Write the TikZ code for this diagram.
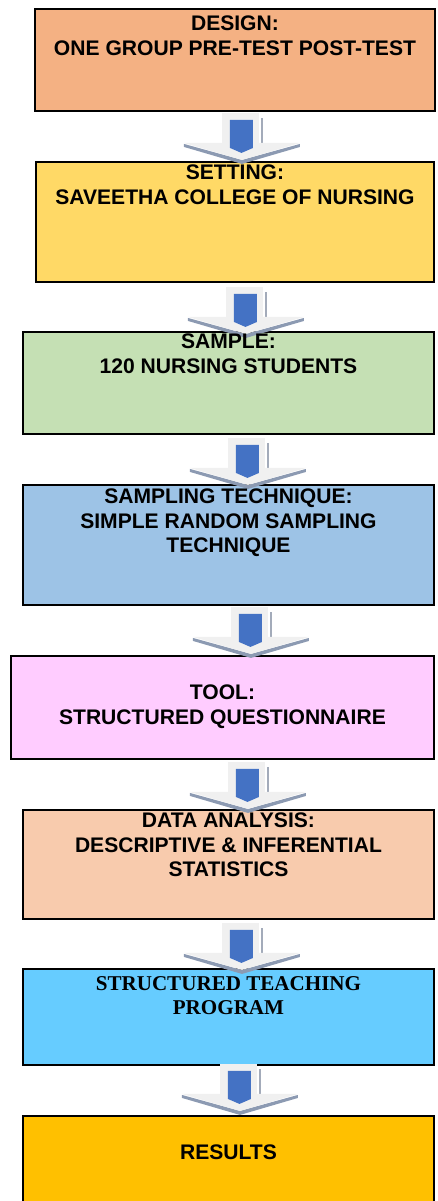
\documentclass[tikz,border=0pt]{standalone}
\usepackage{fontspec}
\setmainfont{Liberation Sans}
\newfontfamily\timesfont{Liberation Serif}
\usetikzlibrary{positioning}

\definecolor{designfill}{HTML}{F4B183}
\definecolor{settingfill}{HTML}{FFD966}
\definecolor{samplefill}{HTML}{C5E0B4}
\definecolor{techniquefill}{HTML}{9DC3E6}
\definecolor{toolfill}{HTML}{FFCCFF}
\definecolor{analysisfill}{HTML}{F8CBAD}
\definecolor{teachingfill}{HTML}{66CCFF}
\definecolor{resultsfill}{HTML}{FFC000}
\definecolor{shaftgray}{HTML}{F0F0F0}
\definecolor{edgegray}{HTML}{A3ABBA}
\definecolor{headshadow}{HTML}{8C9AB2}
\definecolor{arrowblue}{HTML}{4472C4}

\tikzset{
	stage/.style={draw=black, line width=1.1pt, inner sep=0pt, anchor=north west},
	stagetext/.style={anchor=north, align=center, inner sep=0pt, font=\bfseries\fontsize{12}{14.2}\selectfont},
	blockarrow/.pic={
		% shaft and its shaded edge
		\fill[shaftgray] (-19,0) rectangle (18,34);
		\fill[edgegray] (20,5) rectangle (22,30);
		% head with its shadow
		\fill[headshadow] (-57,31) -- (1,47) -- (59,31) -- (59,34) -- (1,51) -- (-57,34) -- cycle;
		\fill[shaftgray] (-57,30) -- (59,30) -- (1,47) -- cycle;
		% front face
		\fill[arrowblue] (-11,7) -- (12,7) -- (12,35) -- (0.5,40) -- (-11,35) -- cycle;
	}
}

\begin{document}
\begin{tikzpicture}[x=0.02cm, y=-0.02cm]
	\def\px{0.02cm} % One pixel of the reference
	
	\clip (0,0) rectangle (438,1201);
	
	% Draw the boxes
	\foreach \name/\xa/\ya/\xb/\yb/\col in {design/34/8/434/110/designfill,
		setting/35/161/433/281/settingfill, sample/22/331/433/433/samplefill,
		technique/22/484/433/604/techniquefill, tool/10/655/433/758/toolfill,
		analysis/22/809/433/918/analysisfill, teaching/22/968/433/1064/teachingfill,
		results/22/1115/433/1212/resultsfill} {
		\node[stage, fill=\col, minimum width={(\xb-\xa)*\px}, minimum height={(\yb-\ya)*\px}] (\name) at (\xa,\ya) {};
	}
	
	% Place the arrows between consecutive boxes
	\foreach \stagename/\dx/\dy in {design/6/1, setting/10/4, sample/18.5/3, technique/21.5/1,
		tool/24.5/2, analysis/12.5/3, teaching/10.5/-2} {
		\pic at ([xshift=\dx*\px, yshift=-\dy*\px]\stagename.south) {blockarrow};
	}
	
	% Texts of the boxes
	\node[stagetext, below=0.14cm of design.north] (designtext) {DESIGN:\\ONE GROUP PRE-TEST POST-TEST};
	\node[stagetext, below=0.06cm of setting.north] (settingtext) {SETTING:\\SAVEETHA COLLEGE OF NURSING};
	\node[stagetext, below=0.04cm of sample.north] (sampletext) {SAMPLE:\\120 NURSING STUDENTS};
	\node[stagetext, below=0.08cm of technique.north] (techniquetext) {SAMPLING TECHNIQUE:\\SIMPLE RANDOM SAMPLING\\TECHNIQUE};
	\node[stagetext, below=0.58cm of tool.north] (tooltext) {TOOL:\\STRUCTURED QUESTIONNAIRE};
	\node[stagetext, below=0.06cm of analysis.north] (analysistext) {DATA ANALYSIS:\\DESCRIPTIVE \& INFERENTIAL\\STATISTICS};
	\node[stagetext, font=\timesfont\bfseries\fontsize{12}{13.8}\selectfont, below=0.16cm of teaching.north] (teachingtext) {STRUCTURED TEACHING\\PROGRAM};
	\node[stagetext, below=0.58cm of results.north] (resultstext) {RESULTS};
	
\end{tikzpicture}
\end{document}
